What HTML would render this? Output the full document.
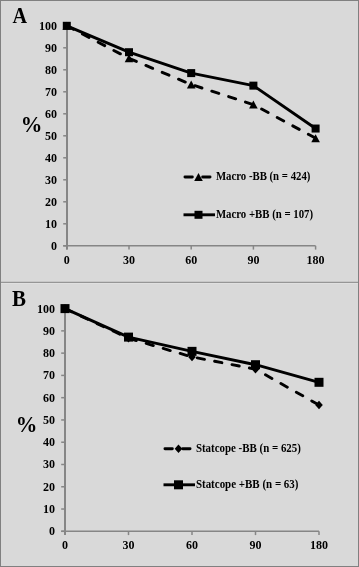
<!DOCTYPE html>
<html><head><meta charset="utf-8"><style>
html,body{margin:0;padding:0;background:#d9d9d9;}
body{width:359px;height:567px;overflow:hidden;}
svg{display:block;will-change:transform;}
.t{font-family:"Liberation Serif",serif;font-weight:bold;font-size:12px;fill:#000;}
.lg{font-family:"Liberation Serif",serif;font-weight:bold;font-size:11.8px;fill:#000;}
.big{font-family:"Liberation Serif",serif;font-weight:bold;font-size:23px;fill:#000;}
.pct{font-family:"Liberation Serif",serif;font-weight:bold;font-size:22.7px;fill:#000;}
</style></head><body>
<svg width="359" height="567" viewBox="0 0 359 567">
<rect x="0" y="0" width="359" height="567" fill="#d9d9d9"/>
<rect x="0.5" y="0.5" width="358" height="566" fill="none" stroke="#808080" stroke-width="1"/>
<rect x="1" y="281" width="357" height="1" fill="#c8c8c8"/><rect x="1" y="282" width="357" height="1" fill="#969696"/><rect x="1" y="283" width="357" height="1" fill="#e0e0e0"/>
<line x1="67.0" y1="25.80" x2="67.0" y2="249.60" stroke="#868686" stroke-width="2"/>
<line x1="63.20" y1="245.80" x2="315.60" y2="245.80" stroke="#868686" stroke-width="1.5"/>
<line x1="63.20" y1="245.80" x2="67.0" y2="245.80" stroke="#868686" stroke-width="1.5"/>
<text x="57" y="249.70" text-anchor="end" class="t">0</text>
<line x1="63.20" y1="223.80" x2="67.0" y2="223.80" stroke="#868686" stroke-width="1.5"/>
<text x="57" y="227.70" text-anchor="end" class="t">10</text>
<line x1="63.20" y1="201.80" x2="67.0" y2="201.80" stroke="#868686" stroke-width="1.5"/>
<text x="57" y="205.70" text-anchor="end" class="t">20</text>
<line x1="63.20" y1="179.80" x2="67.0" y2="179.80" stroke="#868686" stroke-width="1.5"/>
<text x="57" y="183.70" text-anchor="end" class="t">30</text>
<line x1="63.20" y1="157.80" x2="67.0" y2="157.80" stroke="#868686" stroke-width="1.5"/>
<text x="57" y="161.70" text-anchor="end" class="t">40</text>
<line x1="63.20" y1="135.80" x2="67.0" y2="135.80" stroke="#868686" stroke-width="1.5"/>
<text x="57" y="139.70" text-anchor="end" class="t">50</text>
<line x1="63.20" y1="113.80" x2="67.0" y2="113.80" stroke="#868686" stroke-width="1.5"/>
<text x="57" y="117.70" text-anchor="end" class="t">60</text>
<line x1="63.20" y1="91.80" x2="67.0" y2="91.80" stroke="#868686" stroke-width="1.5"/>
<text x="57" y="95.70" text-anchor="end" class="t">70</text>
<line x1="63.20" y1="69.80" x2="67.0" y2="69.80" stroke="#868686" stroke-width="1.5"/>
<text x="57" y="73.70" text-anchor="end" class="t">80</text>
<line x1="63.20" y1="47.80" x2="67.0" y2="47.80" stroke="#868686" stroke-width="1.5"/>
<text x="57" y="51.70" text-anchor="end" class="t">90</text>
<line x1="63.20" y1="25.80" x2="67.0" y2="25.80" stroke="#868686" stroke-width="1.5"/>
<text x="57" y="29.70" text-anchor="end" class="t">100</text>
<line x1="66.80" y1="245.80" x2="66.80" y2="249.60" stroke="#868686" stroke-width="1.5"/>
<text x="66.80" y="264" text-anchor="middle" class="t">0</text>
<line x1="129.00" y1="245.80" x2="129.00" y2="249.60" stroke="#868686" stroke-width="1.5"/>
<text x="129.00" y="264" text-anchor="middle" class="t">30</text>
<line x1="191.20" y1="245.80" x2="191.20" y2="249.60" stroke="#868686" stroke-width="1.5"/>
<text x="191.20" y="264" text-anchor="middle" class="t">60</text>
<line x1="253.40" y1="245.80" x2="253.40" y2="249.60" stroke="#868686" stroke-width="1.5"/>
<text x="253.40" y="264" text-anchor="middle" class="t">90</text>
<line x1="315.60" y1="245.80" x2="315.60" y2="249.60" stroke="#868686" stroke-width="1.5"/>
<text x="315.60" y="264" text-anchor="middle" class="t">180</text>
<polyline points="66.80,25.80 129.00,58.36 191.20,84.54 253.40,104.56 315.60,138.22" fill="none" stroke="#000" stroke-width="2.9" stroke-dasharray="7.4 10.3" stroke-linecap="round" stroke-linejoin="round"/>
<polygon points="66.80,21.80 71.10,29.80 62.50,29.80" fill="#000"/>
<polygon points="129.00,54.36 133.30,62.36 124.70,62.36" fill="#000"/>
<polygon points="191.20,80.54 195.50,88.54 186.90,88.54" fill="#000"/>
<polygon points="253.40,100.56 257.70,108.56 249.10,108.56" fill="#000"/>
<polygon points="315.60,134.22 319.90,142.22 311.30,142.22" fill="#000"/>
<polyline points="66.80,25.80 129.00,52.20 191.20,73.10 253.40,85.64 315.60,128.54" fill="none" stroke="#000" stroke-width="2.9" stroke-linejoin="round"/>
<rect x="62.80" y="21.80" width="8" height="8" fill="#000"/>
<rect x="125.00" y="48.20" width="8" height="8" fill="#000"/>
<rect x="187.20" y="69.10" width="8" height="8" fill="#000"/>
<rect x="249.40" y="81.64" width="8" height="8" fill="#000"/>
<rect x="311.60" y="124.54" width="8" height="8" fill="#000"/>
<line x1="184.95" y1="177" x2="213" y2="177" stroke="#000" stroke-width="2.9" stroke-dasharray="7.4 10.3" stroke-linecap="round"/>
<polygon points="198.50,173.00 202.80,181.00 194.20,181.00" fill="#000"/>
<text x="215.9" y="180.3" class="lg" textLength="94.5" lengthAdjust="spacingAndGlyphs">Macro -BB (n = 424)</text>
<line x1="183.5" y1="214.8" x2="215" y2="214.8" stroke="#000" stroke-width="2.9"/>
<rect x="194.50" y="210.80" width="8" height="8" fill="#000"/>
<text x="215.9" y="218.10000000000002" class="lg" textLength="97.2" lengthAdjust="spacingAndGlyphs">Macro +BB (n = 107)</text>
<text x="12.6" y="22.7" class="big" textLength="14.6" lengthAdjust="spacingAndGlyphs">A</text>
<text x="20.7" y="131.6" class="pct" textLength="21.6" lengthAdjust="spacingAndGlyphs">%</text>
<line x1="65.0" y1="308.60" x2="65.0" y2="535.10" stroke="#868686" stroke-width="2"/>
<line x1="61.20" y1="531.30" x2="319.00" y2="531.30" stroke="#868686" stroke-width="1.5"/>
<line x1="61.20" y1="531.30" x2="65.0" y2="531.30" stroke="#868686" stroke-width="1.5"/>
<text x="55" y="535.20" text-anchor="end" class="t">0</text>
<line x1="61.20" y1="509.03" x2="65.0" y2="509.03" stroke="#868686" stroke-width="1.5"/>
<text x="55" y="512.93" text-anchor="end" class="t">10</text>
<line x1="61.20" y1="486.76" x2="65.0" y2="486.76" stroke="#868686" stroke-width="1.5"/>
<text x="55" y="490.66" text-anchor="end" class="t">20</text>
<line x1="61.20" y1="464.49" x2="65.0" y2="464.49" stroke="#868686" stroke-width="1.5"/>
<text x="55" y="468.39" text-anchor="end" class="t">30</text>
<line x1="61.20" y1="442.22" x2="65.0" y2="442.22" stroke="#868686" stroke-width="1.5"/>
<text x="55" y="446.12" text-anchor="end" class="t">40</text>
<line x1="61.20" y1="419.95" x2="65.0" y2="419.95" stroke="#868686" stroke-width="1.5"/>
<text x="55" y="423.85" text-anchor="end" class="t">50</text>
<line x1="61.20" y1="397.68" x2="65.0" y2="397.68" stroke="#868686" stroke-width="1.5"/>
<text x="55" y="401.58" text-anchor="end" class="t">60</text>
<line x1="61.20" y1="375.41" x2="65.0" y2="375.41" stroke="#868686" stroke-width="1.5"/>
<text x="55" y="379.31" text-anchor="end" class="t">70</text>
<line x1="61.20" y1="353.14" x2="65.0" y2="353.14" stroke="#868686" stroke-width="1.5"/>
<text x="55" y="357.04" text-anchor="end" class="t">80</text>
<line x1="61.20" y1="330.87" x2="65.0" y2="330.87" stroke="#868686" stroke-width="1.5"/>
<text x="55" y="334.77" text-anchor="end" class="t">90</text>
<line x1="61.20" y1="308.60" x2="65.0" y2="308.60" stroke="#868686" stroke-width="1.5"/>
<text x="55" y="312.50" text-anchor="end" class="t">100</text>
<line x1="65.00" y1="531.30" x2="65.00" y2="535.10" stroke="#868686" stroke-width="1.5"/>
<text x="65.00" y="549" text-anchor="middle" class="t">0</text>
<line x1="128.50" y1="531.30" x2="128.50" y2="535.10" stroke="#868686" stroke-width="1.5"/>
<text x="128.50" y="549" text-anchor="middle" class="t">30</text>
<line x1="192.00" y1="531.30" x2="192.00" y2="535.10" stroke="#868686" stroke-width="1.5"/>
<text x="192.00" y="549" text-anchor="middle" class="t">60</text>
<line x1="255.50" y1="531.30" x2="255.50" y2="535.10" stroke="#868686" stroke-width="1.5"/>
<text x="255.50" y="549" text-anchor="middle" class="t">90</text>
<line x1="319.00" y1="531.30" x2="319.00" y2="535.10" stroke="#868686" stroke-width="1.5"/>
<text x="319.00" y="549" text-anchor="middle" class="t">180</text>
<polyline points="65.00,308.60 128.50,338.22 192.00,356.93 255.50,369.17 319.00,405.03" fill="none" stroke="#000" stroke-width="2.9" stroke-dasharray="7.4 10.3" stroke-linecap="round" stroke-linejoin="round"/>
<polygon points="65.00,304.30 68.80,308.60 65.00,312.90 61.20,308.60" fill="#000"/>
<polygon points="128.50,333.92 132.30,338.22 128.50,342.52 124.70,338.22" fill="#000"/>
<polygon points="192.00,352.63 195.80,356.93 192.00,361.23 188.20,356.93" fill="#000"/>
<polygon points="255.50,364.87 259.30,369.17 255.50,373.47 251.70,369.17" fill="#000"/>
<polygon points="319.00,400.73 322.80,405.03 319.00,409.33 315.20,405.03" fill="#000"/>
<polyline points="65.00,308.60 128.50,337.11 192.00,351.36 255.50,364.72 319.00,382.31" fill="none" stroke="#000" stroke-width="2.9" stroke-linejoin="round"/>
<rect x="60.50" y="304.10" width="9" height="9" fill="#000"/>
<rect x="124.00" y="332.61" width="9" height="9" fill="#000"/>
<rect x="187.50" y="346.86" width="9" height="9" fill="#000"/>
<rect x="251.00" y="360.22" width="9" height="9" fill="#000"/>
<rect x="314.50" y="377.81" width="9" height="9" fill="#000"/>
<line x1="164.95" y1="448.7" x2="193" y2="448.7" stroke="#000" stroke-width="2.9" stroke-dasharray="7.4 10.3" stroke-linecap="round"/>
<polygon points="178.50,444.40 182.30,448.70 178.50,453.00 174.70,448.70" fill="#000"/>
<text x="195.9" y="452.2" class="lg" textLength="105" lengthAdjust="spacingAndGlyphs">Statcope -BB (n = 625)</text>
<line x1="163.5" y1="484.8" x2="195" y2="484.8" stroke="#000" stroke-width="2.9"/>
<rect x="174.00" y="480.30" width="9" height="9" fill="#000"/>
<text x="195.9" y="488.3" class="lg" textLength="102.6" lengthAdjust="spacingAndGlyphs">Statcope +BB (n = 63)</text>
<text x="12.0" y="305.8" class="big" textLength="14.0" lengthAdjust="spacingAndGlyphs">B</text>
<text x="15.7" y="431.6" class="pct" textLength="21.6" lengthAdjust="spacingAndGlyphs">%</text>
</svg>
</body></html>
